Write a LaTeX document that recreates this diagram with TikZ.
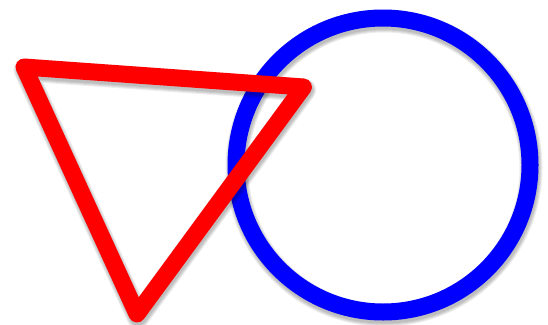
\documentclass[tikz,border=0pt]{standalone}
\begin{document}
\begin{tikzpicture}[x=1pt,y=-1pt,
  shadowline/.style={draw=black,line join=round,opacity=0.07},
  thickline/.style={line width=17pt,line join=round}]
\useasboundingbox (0,0) rectangle (548,324);
\coordinate (c) at (383,165);
\coordinate (a) at (24,67);
\coordinate (b) at (303.5,87);
\coordinate (d) at (137,314);
% shadows
\foreach \w in {17,19,21,23}{
  \draw[shadowline,line width=\w pt] ([shift={(1,3)}]c) circle[radius=147];
}
\draw[thickline,draw={rgb,255:red,0;green,0;blue,255}] (c) circle[radius=147];
\foreach \w in {17,19,21,23}{
  \draw[shadowline,line width=\w pt] ([shift={(1,3)}]a) -- ([shift={(1,3)}]b) -- ([shift={(1,3)}]d) -- cycle;
}
\draw[thickline,draw={rgb,255:red,255;green,0;blue,0}] (a) -- (b) -- (d) -- cycle;
\end{tikzpicture}
\end{document}
